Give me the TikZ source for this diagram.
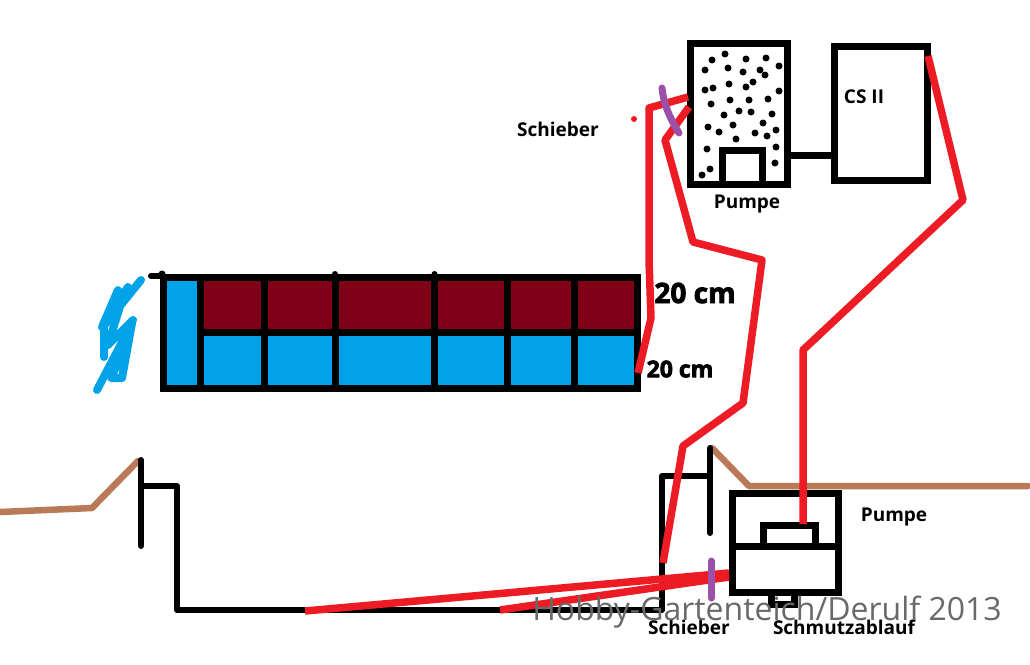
\documentclass[tikz,border=0pt]{standalone}
\usepackage{fontspec}
\setmainfont{Open Sans}
\newfontfamily\handfont[FakeBold=3]{Open Sans}
\definecolor{colpipe}{RGB}{237,28,36}
\definecolor{colwater}{RGB}{0,162,232}
\definecolor{colfish}{RGB}{128,0,24}
\definecolor{colground}{RGB}{185,122,87}
\definecolor{colslider}{RGB}{155,80,170}
\definecolor{colmark}{RGB}{105,105,105}
\tikzset{
	wall/.style={draw=black, line width=7pt, line join=miter},
	thinwall/.style={draw=black, line width=6pt, line cap=round, line join=round},
	pipe/.style={draw=colpipe, line width=7.5pt, line join=round},
	ground/.style={draw=colground, line width=6.5pt, line cap=round, line join=round},
	slider/.style={draw=colslider, line width=7pt, line cap=round, line join=round},
	scribble/.style={draw=colwater, line width=8pt, line cap=round, line join=round},
	caption/.style={font=\bfseries\fontsize{19}{21}\selectfont, inner sep=0pt},
	handnote/.style={font=\handfont\bfseries\fontsize{28}{30}\selectfont, inner sep=0pt},
	handsmall/.style={font=\handfont\bfseries\fontsize{23}{25}\selectfont, inner sep=0pt},
	watermark/.style={font=\fontsize{32}{36}\selectfont, text=colmark, inner sep=0pt}
}
\begin{document}
\begin{tikzpicture}[x=1pt, y=-1pt]
	\useasboundingbox (0,0) rectangle (1030,664);

	% tank
	\fill[colwater] (163,278) rectangle (200,388);
	\fill[colfish] (200,278) rectangle (638,332);
	\fill[colwater] (200,332) rectangle (638,388);
	\draw[wall] (163,277.5) rectangle (637.5,388.5);
	\draw[wall] (200.5,277.5) -- (200.5,388.5);
	\draw[wall] (200.5,332.5) -- (637.5,332.5);
	\foreach \xcell in {264.5,335,434,507.5,574} {
		\draw[wall] (\xcell,277.5) -- (\xcell,388.5);
	}
	\draw[thinwall] (151,276) -- (163,276);
	\fill (162,274) circle (3.5);
	\fill (335,274) circle (3);
	\fill (434.5,274) circle (3);

	% water running in
	\draw[scribble] (141,280) -- (103,327) -- (128,287) -- (102,327) -- (118,290) -- (104,327) -- (104,357);
	\draw[scribble] (122,300) -- (108,345) -- (133,320) -- (110,372);
	\draw[scribble] (132,323) -- (97,390);
	\draw[scribble] (132,323) -- (122,378) -- (111,378) -- (126,345);

	% filter with its pump
	\draw[wall] (690.5,43.5) rectangle (787.5,184);
	\draw[wall] (722,150) rectangle (762,184);
	\foreach \xdot/\ydot in {725/54,712/60,746/59,766/58,779/66,705/70,728/68,743/72,760/70,765/75,729/84,753/82,746/87,713/88,705/90,779/91,730/100,749/100,768/99,711/104,739/111,751/112,724/115,772/114,763/123,733/125,708/127,719/132,755/133,767/136,776/130,736/139,707/149,776/147,775/163,710/169,702/175} {
		\fill (\xdot,\ydot) circle (3.5);
	}

	% second chamber
	\draw[wall] (834,46) rectangle (927,180);
	\draw[line width=7pt] (785,155.7) -- (834,155.7);

	% ground
	\draw[ground] (0,512) -- (92,508) -- (138,461);
	\draw[ground] (712,448) -- (749,486) -- (1028,486);

	% pond outline
	\draw[thinwall] (141,460) -- (141,546);
	\draw[thinwall] (141,486) -- (177,486) -- (177,610) -- (662,610) -- (662,476) -- (710,476);
	\draw[thinwall] (710,448) -- (710,533);

	% lower pump
	\draw[wall] (732.5,493.5) rectangle (838,592);
	\draw[wall] (732.5,546.5) -- (838,546.5);
	\draw[wall] (763,546) -- (763,525.5) -- (815,525.5) -- (815,546);
	\draw[line width=7pt] (771,592) rectangle (794,604);

	% red pipes
	\draw[pipe] (688,97) -- (649,108) -- (649,260) -- (651,318) -- (638,373);
	\draw[pipe] (689,107) -- (665,140) -- (693,242) -- (762,260) -- (743,403) -- (683,446) -- (663,563);
	\draw[pipe] (928,56) -- (963,200) -- (803,350) -- (803,524);
	\draw[pipe] (305,611) -- (729,573);
	\draw[pipe] (500,610) -- (729,577);
	\fill[colpipe] (634,119) circle (3);

	% slider
	\draw[slider] (662,88) .. controls (664,106) and (670,118) .. (679,133);
	\draw[slider] (711,561) -- (711,598);

	% labels
	\node[caption] (slidertop) at (558,129) {Schieber};
	\node[caption] (filterpump) at (747,204) {Pumpe};
	\node[caption] (chamber) at (864,97) {CS II};
	\node[caption] (pondpump) at (894,517) {Pumpe};
	\node[caption] (sliderlow) at (689,627) {Schieber};
	\node[caption] (drain) at (844,627) {Schmutzablauf};
	\node[handnote] (depthtop) at (695,293) {20 cm};
	\node[handsmall] (depthlow) at (680,369) {20 cm};
	\node[watermark] (credit) at (767,612) {Hobby-Gartenteich/Derulf 2013};
\end{tikzpicture}
\end{document}
